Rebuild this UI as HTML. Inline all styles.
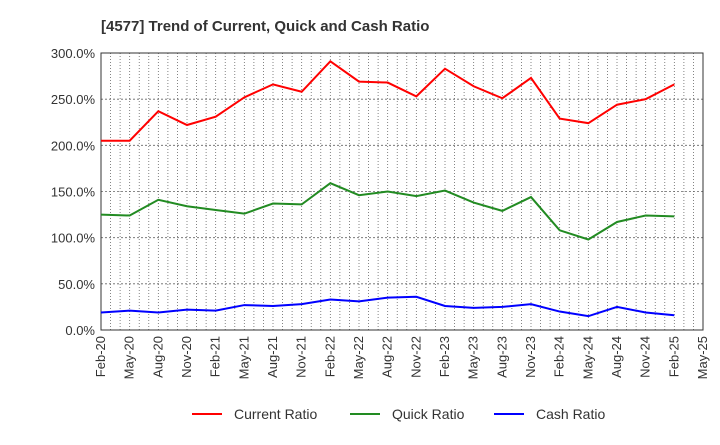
<!DOCTYPE html>
<html><head><meta charset="utf-8"><style>
body{margin:0;background:#fff;font-family:"Liberation Sans",sans-serif}
</style></head><body>
<svg id="chart" width="720" height="440" xmlns="http://www.w3.org/2000/svg" font-family="Liberation Sans, sans-serif">
<text x="101" y="31" font-size="15" font-weight="bold" fill="#333">[4577]  Trend of Current, Quick and Cash Ratio</text>
<g id="grid"></g><g id="axes"></g><g id="series"></g>
<g>
<line x1="192" y1="414" x2="222" y2="414" stroke="#f00" stroke-width="2"/>
<text x="234" y="419" font-size="14" fill="#333">Current Ratio</text>
<line x1="350" y1="414" x2="380" y2="414" stroke="#228b22" stroke-width="2"/>
<text x="392" y="419" font-size="14" fill="#333">Quick Ratio</text>
<line x1="494" y1="414" x2="524" y2="414" stroke="#00f" stroke-width="2"/>
<text x="536" y="419" font-size="14" fill="#333">Cash Ratio</text>
</g>
</svg>
<script>
const xLabels=["Feb-20","May-20","Aug-20","Nov-20","Feb-21","May-21","Aug-21","Nov-21","Feb-22","May-22","Aug-22","Nov-22","Feb-23","May-23","Aug-23","Nov-23","Feb-24","May-24","Aug-24","Nov-24","Feb-25","May-25"];
const yTicks=[0,50,100,150,200,250,300];
const currentRatio=[205,205,237,222,231,252,266,258,291,269,268,253,283,264,251,273,229,224,244,250,266];
const quickRatio=[125,124,141,134,130,126,137,136,159,146,150,145,151,138,129,144,108,98,117,124,123];
const cashRatio=[19,21,19,22,21,27,26,28,33,31,35,36,26,24,25,28,20,15,25,19,16];
const L=101,R=703,T=53,B=330,NS="http://www.w3.org/2000/svg";
const months=(xLabels.length-1)*3;
const x=i=>L+(R-L)*i/(xLabels.length-1);
const xm=m=>L+(R-L)*m/months;
const y=v=>B-(B-T)*v/300;
function mk(tag,a,p){const e=document.createElementNS(NS,tag);for(const k in a)e.setAttribute(k,a[k]);p.appendChild(e);return e;}
const grid=document.getElementById('grid'),axes=document.getElementById('axes'),ser=document.getElementById('series');
for(let m=1;m<months;m++){const l=mk('line',{x1:xm(m),x2:xm(m),y1:T,y2:B,stroke:'#666','stroke-dasharray':'1,2','stroke-width':0.8},grid);

}
yTicks.forEach(v=>{if(v>0&&v<300){const l=mk('line',{x1:L,x2:R,y1:y(v),y2:y(v),stroke:'#666','stroke-dasharray':'2,2','stroke-width':0.8},grid);

}
const t=mk('text',{x:L-6,y:y(v)+5,'text-anchor':'end','font-size':13,fill:'#333'},axes);t.textContent=v.toFixed(1)+'%';

});
const fr=mk('rect',{x:L,y:T,width:R-L,height:B-T,fill:'none',stroke:'#333','stroke-width':1},axes);


xLabels.forEach((s,i)=>{const t=mk('text',{x:0,y:0,'text-anchor':'end','font-size':13,fill:'#333',transform:`translate(${x(i)+4},${B+6}) rotate(-90)`},axes);t.textContent=s;

});
[[currentRatio,'#f00','current-ratio-line'],[quickRatio,'#228b22','quick-ratio-line'],[cashRatio,'#00f','cash-ratio-line']].forEach(([d,c,n])=>{
const p=mk('polyline',{points:d.map((v,i)=>x(i)+','+y(v)).join(' '),fill:'none',stroke:c,'stroke-width':2},ser);

});
</script>
</body></html>
